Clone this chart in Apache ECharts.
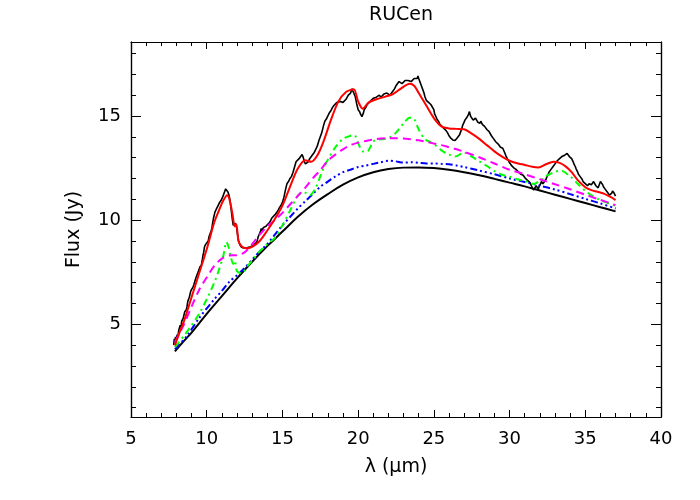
<!DOCTYPE html>
<html><head><meta charset="utf-8">
<script src="https://cdn.jsdelivr.net/npm/echarts@6/dist/echarts.min.js"></script>
<style>html,body{margin:0;padding:0;background:#fff}#c{width:700px;height:500px}</style>
</head><body><div id="c"></div>
<script>
// ---- data ----
// observed spectrum: [wavelength (um), flux (Jy)]
const observed = [[7.82,4.0],[7.86,4.3],[7.9,4.15],[7.94,4.4],[8.0,4.3],[8.05,4.5],[8.1,4.4],[8.15,4.7],[8.2,4.75],[8.25,4.95],[8.3,4.85],[8.35,5.15],[8.4,5.2],[8.45,5.3],[8.5,5.25],[8.55,5.6],[8.6,5.65],[8.65,5.7],[8.7,5.85],[8.75,6.1],[8.8,6.05],[8.85,6.3],[8.9,6.35],[8.95,6.6],[9.0,6.65],[9.05,6.6],[9.1,6.8],[9.15,6.9],[9.2,6.95],[9.25,7.15],[9.3,7.1],[9.35,7.35],[9.4,7.4],[9.45,7.55],[9.5,7.5],[9.55,7.75],[9.6,7.8],[9.65,7.85],[9.7,8.05],[9.75,8.3],[9.8,8.45],[9.85,8.7],[9.9,8.8],[9.95,8.75],[10.0,8.9],[10.05,8.85],[10.1,9.0],[10.15,9.2],[10.2,9.3],[10.25,9.35],[10.3,9.5],[10.35,9.65],[10.4,9.9],[10.45,10.1],[10.5,10.25],[10.55,10.4],[10.6,10.45],[10.65,10.55],[10.7,10.6],[10.75,10.7],[10.8,10.75],[10.85,10.85],[10.9,10.9],[10.95,10.95],[11.0,11.0],[11.05,11.1],[11.1,11.2],[11.15,11.3],[11.2,11.4],[11.25,11.5],[11.3,11.55],[11.35,11.45],[11.4,11.35],[11.45,11.25],[11.5,11.1],[11.55,10.9],[11.6,10.6],[11.65,10.3],[11.7,10.0],[11.75,9.75],[11.8,9.7],[11.85,9.85],[11.9,9.9],[11.95,9.75],[12.0,9.5],[12.05,9.25],[12.1,9.0],[12.15,8.9],[12.2,8.8],[12.3,8.7],[12.4,8.62],[12.5,8.65],[12.6,8.62],[12.7,8.68],[12.8,8.66],[12.9,8.72],[13.0,8.75],[13.1,8.8],[13.2,8.85],[13.3,8.95],[13.35,9.05],[13.4,9.2],[13.45,9.15],[13.5,9.25],[13.55,9.45],[13.6,9.6],[13.65,9.5],[13.7,9.55],[13.75,9.65],[13.8,9.6],[13.9,9.7],[14.0,9.75],[14.1,9.85],[14.2,9.95],[14.3,10.1],[14.4,10.15],[14.5,10.25],[14.6,10.3],[14.7,10.45],[14.8,10.6],[14.9,10.7],[15.0,10.85],[15.1,11.1],[15.2,11.45],[15.3,11.75],[15.4,11.85],[15.5,12.0],[15.6,12.1],[15.7,12.3],[15.8,12.55],[15.9,12.8],[16.0,12.85],[16.1,12.95],[16.2,13.05],[16.3,13.15],[16.38,13.0],[16.45,12.8],[16.52,12.7],[16.6,12.65],[16.7,12.8],[16.8,12.95],[16.9,12.9],[17.0,13.15],[17.1,13.25],[17.2,13.4],[17.3,13.55],[17.4,13.8],[17.5,14.0],[17.6,14.2],[17.7,14.5],[17.8,14.75],[17.9,14.85],[18.0,15.0],[18.1,15.15],[18.2,15.25],[18.3,15.4],[18.4,15.5],[18.5,15.55],[18.6,15.65],[18.7,15.6],[18.8,15.7],[18.9,15.75],[19.0,15.65],[19.1,15.7],[19.2,15.8],[19.3,15.85],[19.35,16.0],[19.45,15.95],[19.5,16.1],[19.55,16.2],[19.6,16.3],[19.65,16.2],[19.7,16.15],[19.8,15.95],[19.9,15.6],[20.0,15.3],[20.1,15.2],[20.15,15.1],[20.25,14.97],[20.35,15.15],[20.4,15.3],[20.5,15.4],[20.6,15.55],[20.7,15.6],[20.8,15.7],[20.9,15.75],[21.0,15.85],[21.1,15.8],[21.2,15.9],[21.3,15.95],[21.4,16.0],[21.5,15.9],[21.6,15.95],[21.7,16.05],[21.8,16.0],[21.9,16.1],[22.0,16.1],[22.1,16.0],[22.2,16.05],[22.3,16.2],[22.4,16.3],[22.5,16.45],[22.6,16.5],[22.7,16.65],[22.8,16.6],[22.9,16.55],[23.0,16.55],[23.1,16.7],[23.2,16.65],[23.3,16.7],[23.4,16.75],[23.5,16.65],[23.6,16.7],[23.7,16.8],[23.8,16.85],[23.9,16.8],[23.95,16.92],[24.0,16.8],[24.1,16.6],[24.2,16.4],[24.25,16.3],[24.35,16.1],[24.4,15.95],[24.5,15.75],[24.55,15.7],[24.65,15.65],[24.7,15.6],[24.8,15.55],[24.9,15.5],[25.0,15.3],[25.05,15.1],[25.15,14.95],[25.2,14.85],[25.3,14.75],[25.4,14.6],[25.5,14.55],[25.6,14.45],[25.7,14.4],[25.8,14.3],[25.9,14.2],[26.0,14.05],[26.1,13.95],[26.15,13.9],[26.25,13.85],[26.3,13.78],[26.4,13.82],[26.45,13.85],[26.55,13.95],[26.6,14.0],[26.7,14.1],[26.75,14.2],[26.85,14.4],[26.9,14.55],[27.0,14.7],[27.05,14.8],[27.15,14.85],[27.2,14.95],[27.3,15.1],[27.35,15.21],[27.42,15.0],[27.5,14.9],[27.6,14.8],[27.65,14.75],[27.75,14.9],[27.8,14.85],[27.9,14.7],[27.95,14.75],[28.05,14.65],[28.1,14.75],[28.2,14.6],[28.25,14.65],[28.35,14.5],[28.4,14.45],[28.5,14.35],[28.55,14.3],[28.65,14.25],[28.7,14.2],[28.8,14.05],[28.85,14.0],[28.95,13.9],[29.0,13.85],[29.1,13.75],[29.15,13.7],[29.25,13.65],[29.3,13.6],[29.4,13.5],[29.45,13.55],[29.55,13.45],[29.6,13.4],[29.7,13.2],[29.75,13.1],[29.85,12.95],[29.9,12.9],[30.0,12.75],[30.05,12.7],[30.15,12.6],[30.2,12.55],[30.3,12.5],[30.35,12.45],[30.45,12.42],[30.5,12.4],[30.6,12.3],[30.65,12.32],[30.75,12.2],[30.8,12.25],[30.9,12.15],[30.95,12.2],[31.05,12.0],[31.1,12.05],[31.2,11.9],[31.25,11.95],[31.35,11.8],[31.4,11.85],[31.5,11.55],[31.6,11.45],[31.65,11.5],[31.75,11.65],[31.8,11.6],[31.9,11.5],[31.95,11.6],[32.05,11.75],[32.1,11.85],[32.2,11.75],[32.3,11.8],[32.4,11.95],[32.45,12.05],[32.55,12.2],[32.6,12.3],[32.7,12.4],[32.75,12.45],[32.85,12.55],[32.9,12.6],[33.0,12.7],[33.05,12.75],[33.15,12.85],[33.2,12.8],[33.3,12.95],[33.35,12.9],[33.45,13.05],[33.5,13.0],[33.6,13.1],[33.7,13.05],[33.8,13.2],[33.85,13.15],[33.95,13.05],[34.0,13.1],[34.1,12.95],[34.2,12.8],[34.25,12.7],[34.35,12.55],[34.4,12.45],[34.5,12.3],[34.55,12.2],[34.65,12.1],[34.7,12.05],[34.8,11.95],[34.85,11.85],[34.95,11.8],[35.0,11.75],[35.1,11.7],[35.15,11.65],[35.25,11.75],[35.3,11.8],[35.4,11.7],[35.45,11.75],[35.55,11.85],[35.6,11.8],[35.7,11.65],[35.75,11.7],[35.85,11.55],[35.9,11.6],[36.0,11.85],[36.05,11.9],[36.15,11.7],[36.2,11.6],[36.3,11.5],[36.35,11.45],[36.45,11.35],[36.5,11.3],[36.6,11.2],[36.65,11.15],[36.7,11.2],[36.75,11.3],[36.8,11.4],[36.85,11.45],[36.9,11.3],[36.95,11.35],[37.0,11.15]];

const redX = [7.9,8.2,8.5,9.0,9.5,10.0,10.5,10.8,11.1,11.35,11.5,11.7,11.85,11.95,12.1,12.3,12.6,13.0,13.5,14.0,14.5,15.0,15.5,16.0,16.5,16.9,17.3,17.7,18.2,18.7,19.2,19.7,20.0,20.3,20.7,21.2,21.8,22.3,22.8,23.4,23.7,24.0,24.5,25.0,25.5,26.0,26.5,27.0,27.5,28.0,28.5,29.0,29.5,30.0,30.5,31.0,31.5,31.9,32.4,32.9,33.3,33.7,34.1,34.5,35.0,35.4,35.8,36.3,36.7,37.0];
const redY = [3.99,4.6,5.15,6.3,7.45,8.6,9.9,10.45,10.95,11.2,11.0,10.3,9.7,9.8,9.0,8.75,8.65,8.72,9.0,9.5,10.05,10.7,11.6,12.45,12.88,12.8,13.1,13.75,14.8,15.7,16.15,16.28,15.7,15.35,15.65,15.8,15.93,16.05,16.3,16.55,16.45,16.1,15.5,14.9,14.5,14.4,14.38,14.36,14.15,13.9,13.6,13.3,13.05,12.85,12.73,12.65,12.56,12.53,12.68,12.8,12.75,12.58,12.3,11.92,11.58,11.44,11.36,11.25,11.1,10.96];

const magX = [7.9,8.5,9.0,9.5,10.0,10.5,11.0,11.5,12.0,12.5,13.0,13.5,14.0,14.5,15.0,15.5,16.0,16.5,17.0,17.5,18.0,18.5,19.0,19.5,20.0,20.5,21.0,21.5,22.0,22.5,23.0,23.5,24.0,24.5,25.0,25.5,26.0,26.5,27.0,28.0,29.0,30.0,31.0,32.0,33.0,34.0,35.0,36.0,37.0];
const magY = [4.15,5.0,5.85,6.65,7.25,7.8,8.15,8.3,8.32,8.45,8.85,9.3,9.7,10.0,10.35,10.75,11.15,11.55,12.0,12.4,12.85,13.15,13.4,13.6,13.72,13.8,13.87,13.92,13.93,13.93,13.92,13.88,13.83,13.76,13.68,13.6,13.5,13.4,13.28,13.02,12.72,12.42,12.2,11.96,11.72,11.48,11.22,10.97,10.72];

const grnX = [7.9,8.5,9.0,9.5,10.0,10.5,10.8,11.1,11.3,11.45,11.6,11.75,11.85,12.0,12.3,12.7,13.0,13.5,14.0,14.5,15.0,15.5,16.0,16.4,16.8,17.2,17.6,18.0,18.5,19.0,19.5,19.75,20.0,20.3,20.6,21.0,21.5,22.0,22.5,23.0,23.4,23.7,24.0,24.4,25.0,25.5,26.0,26.4,27.0,27.5,28.0,28.5,29.0,29.5,30.0,30.5,31.0,31.6,32.0,32.5,33.0,33.4,34.0,34.5,35.0,35.5,36.0,36.5,37.0];
const grnY = [3.9,4.45,4.95,5.5,6.2,7.0,7.6,8.3,8.95,8.7,8.2,7.9,8.05,7.55,7.45,7.8,8.05,8.5,8.85,9.15,9.75,10.45,11.15,11.35,11.2,11.55,12.3,12.9,13.5,13.9,14.05,14.08,13.7,13.3,13.3,13.78,13.88,13.93,14.2,14.65,14.92,14.85,14.35,13.9,13.65,13.35,13.15,13.05,13.24,13.05,12.82,12.6,12.35,12.18,12.08,11.96,11.88,11.74,11.9,12.15,12.32,12.37,12.1,11.75,11.4,11.15,10.96,10.82,10.68];

const bluX = [7.9,8.7,9.5,10.5,11.0,11.5,12.0,12.5,13.0,13.5,14.0,14.5,15.0,15.5,16.0,16.5,17.0,17.5,18.0,18.5,19.0,19.5,20.0,20.5,21.0,21.5,22.0,22.5,23.0,23.5,24.0,24.5,25.0,25.5,26.0,26.5,27.0,28.0,29.0,30.0,31.0,32.0,33.0,34.0,35.0,36.0,37.0];
const bluY = [3.8,4.45,5.3,6.2,6.6,7.05,7.35,7.7,8.1,8.5,8.85,9.3,9.75,10.15,10.55,10.9,11.25,11.6,11.85,12.1,12.3,12.42,12.55,12.62,12.7,12.78,12.85,12.82,12.76,12.78,12.75,12.72,12.72,12.7,12.68,12.62,12.55,12.38,12.2,12.0,11.83,11.65,11.47,11.25,11.02,10.8,10.56];

const contX = [7.9,8.5,9,10,11,12,13,14,15,16,17,18,19,20,21,22,23,24,25,26,27,28,29,30,31,32,33,34,35,36,37];
const contY = [3.7,4.2,4.6,5.5,6.35,7.2,8.0,8.75,9.45,10.15,10.75,11.25,11.7,12.05,12.3,12.45,12.52,12.53,12.5,12.42,12.3,12.15,11.98,11.8,11.62,11.42,11.22,11.02,10.82,10.62,10.42];

const xTicks = [5,10,15,20,25,30,35,40];
const yMajor = [5,10,15];
const yMinor = [1,2,3,4,6,7,8,9,11,12,13,14,16,17,18];

// ---- chart ----
const zip = (a,b) => a.map((v,i)=>[v,b[i]]);
const FONT = 'DejaVu Sans';
const XMIN = 5, XMAX = 40, YMIN = 0.55, YMAX = 18.55;
const axisLine = {show:true, lineStyle:{color:'#000', width:1.2}};

function xAx(pos, labels){
  return {type:'value', position:pos, min:XMIN, max:XMAX, interval:5,
    axisLine, splitLine:{show:false},
    axisTick:{show:true, inside:true, length:7, lineStyle:{color:'#000', width:1}},
    minorTick:{show:true, splitNumber:5, length:4, lineStyle:{color:'#000', width:1}},
    axisLabel:{show:labels, color:'#000', fontFamily:FONT, fontSize:18, margin:13,
      formatter: v => xTicks.includes(v) ? String(v) : ''},
    name: labels ? 'λ (μm)' : '', nameLocation:'middle', nameGap:41,
    nameTextStyle:{color:'#000', fontFamily:FONT, fontSize:19}};
}
function yAx(pos, vals, len, labels, name){
  return {type:'value', position:pos, min:YMIN, max:YMAX,
    axisLine, splitLine:{show:false},
    axisTick:{show:true, inside:true, length:len, customValues:vals, lineStyle:{color:'#000', width:1}},
    axisLabel:{show:labels, customValues:vals, color:'#000', fontFamily:FONT, fontSize:18, margin:10},
    name: name || '', nameLocation:'middle', nameGap:47, nameRotate:90,
    nameTextStyle:{color:'#000', fontFamily:FONT, fontSize:19}};
}

const chart = echarts.init(document.getElementById('c'), null, {renderer:'canvas'});
chart.setOption({
  animation:false,
  backgroundColor:'#fff',
  title:{text:'RUCen', left:396, top:1, textAlign:'center',
    textStyle:{color:'#000', fontFamily:FONT, fontSize:19, fontWeight:'normal'}},
  grid:{left:131, top:42, width:530, height:375, containLabel:false},
  xAxis:[xAx('bottom', true), xAx('top', false)],
  yAxis:[
    yAx('left', yMajor, 10, true, 'Flux (Jy)'),
    yAx('left', yMinor, 5, false),
    yAx('right', yMajor, 10, false),
    yAx('right', yMinor, 5, false)
  ],
  series:[
    {type:'line', name:'obs', data:observed, symbol:'none', lineStyle:{color:'#000', width:1.6}, z:2},
    {type:'line', name:'cont', data:zip(contX,contY), symbol:'none', smooth:0.4, lineStyle:{color:'#000', width:2}, z:3},
    {type:'line', name:'blue', data:zip(bluX,bluY), symbol:'none', smooth:0.3, lineStyle:{color:'#0000ff', width:2, type:[7,3,2,3,2,3,2,3]}, z:4},
    {type:'line', name:'green', data:zip(grnX,grnY), symbol:'none', smooth:0.3, lineStyle:{color:'#00ff00', width:2, type:[7,4,2,4]}, z:5},
    {type:'line', name:'magenta', data:zip(magX,magY), symbol:'none', smooth:0.3, lineStyle:{color:'#ff00ff', width:2, type:[8,5]}, z:6},
    {type:'line', name:'red', data:zip(redX,redY), symbol:'none', smooth:0.3, lineStyle:{color:'#ff0000', width:2}, z:7}
  ]
});
</script></body></html>
